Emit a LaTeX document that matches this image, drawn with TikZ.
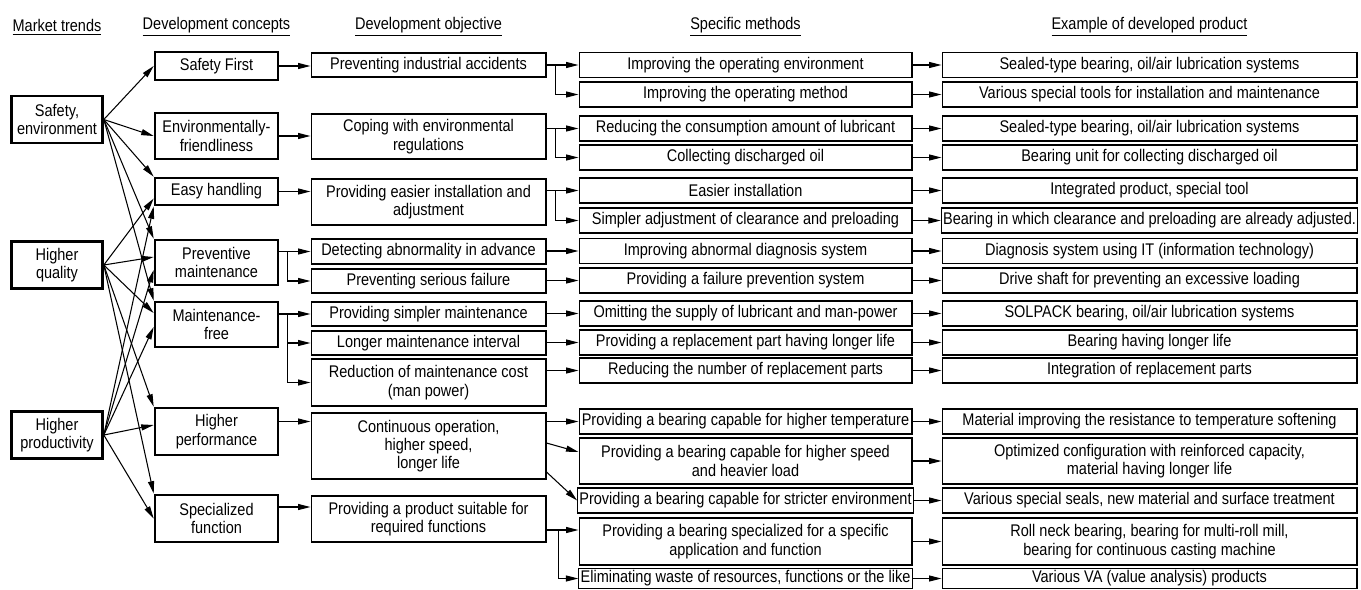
\documentclass[tikz,border=0pt]{standalone}
\usepackage{fontspec}
\setmainfont{Liberation Sans}[FakeStretch=0.86]
\usepackage{tikz}
\usetikzlibrary{calc}
\usetikzlibrary{arrows.meta}
\newcommand{\boxfont}{\fontsize{9.6}{10.4}\selectfont}

\begin{document}
\begin{tikzpicture}[x=0.02cm,y=-0.02cm,
    box/.style={draw,line width=0.6pt,inner sep=1pt,align=center,font=\boxfont},
    thickbox/.style={box,line width=1.5pt},
    trend/.style={thickbox,minimum width=1.82cm,minimum height=0.94cm},
    concept/.style={thickbox,minimum width=2.46cm},
    objective/.style={box,minimum width=4.7cm,minimum height=0.48cm},
    method/.style={box,minimum width=6.66cm,minimum height=0.5cm},
    product/.style={box,minimum width=8.3cm,minimum height=0.5cm},
    head/.style={inner sep=0pt,font=\boxfont},
    arr/.style={-{Triangle[length=2.5mm,width=1.2mm]},line width=0.6pt}]
                \useasboundingbox (0,0) rectangle (1361,589);

                % column headings
                \node[head] (hmt) at (57,27) {\underline{Market trends}};
                \node[head] (hdc) at (216.5,27) {\underline{Development concepts}};
                \node[head] (hdo) at (428.5,27) {\underline{Development objective}};
                \node[head] (hsm) at (745.5,27) {\underline{Specific methods}};
                \node[head] (hex) at (1149.5,27) {\underline{Example of developed product}};

                % market trends
                \node[trend] (safety) at (57,119.5) {Safety,\\environment};
                \node[trend] (quality) at (57,265) {Higher\\quality};
                \node[trend] (productivity) at (57,435) {Higher\\productivity};

                % development concepts
                \node[concept,minimum height=0.56cm] (first) at (216.5,66) {Safety First};
                \node[concept,minimum height=0.92cm] (envfr) at (216.5,136) {Environmentally-\\friendliness};
                \node[concept,minimum height=0.54cm] (easy) at (216.5,191.5) {Easy handling};
                \node[concept,minimum height=0.9cm] (prev) at (216.5,262.5) {Preventive\\maintenance};
                \node[concept,minimum height=0.9cm] (mfree) at (216.5,324.5) {Maintenance-\\free};
                \node[concept,minimum height=0.94cm] (perf) at (216.5,431.5) {Higher\\performance};
                \node[concept,minimum height=0.94cm] (spec) at (216.5,518.5) {Specialized\\function};

                % development objectives
                \node[objective] (o1) at (428.5,65) {Preventing industrial accidents};
                \node[objective,minimum height=0.9cm] (o2) at (428.5,136.5) {Coping with environmental\\regulations};
                \node[objective,minimum height=0.92cm] (o3) at (428.5,202) {Providing easier installation and\\adjustment};
                \node[objective,minimum height=0.5cm] (o4) at (428.5,251.5) {Detecting abnormality in advance};
                \node[objective] (o5) at (428.5,281) {Preventing serious failure};
                \node[objective] (o6) at (428.5,314) {Providing simpler maintenance};
                \node[objective] (o7) at (428.5,343) {Longer maintenance interval};
                \node[objective,minimum height=0.94cm] (o8) at (428.5,382.5) {Reduction of maintenance cost\\(man power)};
                \node[objective,minimum height=1.32cm] (o9) at (428.5,446) {Continuous operation,\\higher speed,\\longer life};
                \node[objective,minimum height=0.92cm] (o10) at (428.5,519) {Providing a product suitable for\\required functions};

                % specific methods
                \node[method] (m1) at (745.5,65) {Improving the operating environment};
                \node[method] (m2) at (745.5,94.5) {Improving the operating method};
                \node[method] (m3) at (745.5,128.5) {Reducing the consumption amount of lubricant};
                \node[method] (m4) at (745.5,157.5) {Collecting discharged oil};
                \node[method] (m5) at (745.5,190.5) {Easier installation};
                \node[method] (m6) at (745.5,220.5) {Simpler adjustment of clearance and preloading};
                \node[method] (m7) at (745.5,251) {Improving abnormal diagnosis system};
                \node[method] (m8) at (745.5,280.5) {Providing a failure prevention system};
                \node[method] (m9) at (745.5,313.5) {Omitting the supply of lubricant and man-power};
                \node[method] (m10) at (745.5,342.5) {Providing a replacement part having longer life};
                \node[method] (m11) at (745.5,370.5) {Reducing the number of replacement parts};
                \node[method] (m12) at (745.5,421.5) {Providing a bearing capable for higher temperature};
                \node[method,minimum height=0.92cm] (m13) at (745.5,461) {Providing a bearing capable for higher speed\\and heavier load};
                \node[method] (m14) at (745.5,500.5) {Providing a bearing capable for stricter environment};
                \node[method,minimum height=0.94cm] (m15) at (745.5,541.5) {Providing a bearing specialized for a specific\\application and function};
                \node[method,minimum height=0.4cm] (m16) at (745.5,578.5) {Eliminating waste of resources, functions or the like};

                % examples of developed products
                \node[product] (p1) at (1149.5,65) {Sealed-type bearing, oil/air lubrication systems};
                \node[product] (p2) at (1149.5,94.5) {Various special tools for installation and maintenance};
                \node[product] (p3) at (1149.5,128.5) {Sealed-type bearing, oil/air lubrication systems};
                \node[product] (p4) at (1149.5,157.5) {Bearing unit for collecting discharged oil};
                \node[product] (p5) at (1149.5,190.5) {Integrated product, special tool};
                \node[product] (p6) at (1149.5,220.5) {Bearing in which clearance and preloading are already adjusted.};
                \node[product] (p7) at (1149.5,251) {Diagnosis system using IT (information technology)};
                \node[product] (p8) at (1149.5,280.5) {Drive shaft for preventing an excessive loading};
                \node[product] (p9) at (1149.5,313.5) {SOLPACK bearing, oil/air lubrication systems};
                \node[product] (p10) at (1149.5,342.5) {Bearing having longer life};
                \node[product] (p11) at (1149.5,370.5) {Integration of replacement parts};
                \node[product] (p12) at (1149.5,421.5) {Material improving the resistance to temperature softening};
                \node[product,minimum height=0.92cm] (p13) at (1149.5,461) {Optimized configuration with reinforced capacity,\\material having longer life};
                \node[product] (p14) at (1149.5,500.5) {Various special seals, new material and surface treatment};
                \node[product,minimum height=0.94cm] (p15) at (1149.5,541.5) {Roll neck bearing, bearing for multi-roll mill,\\bearing for continuous casting machine};
                \node[product,minimum height=0.4cm] (p16) at (1149.5,578.5) {Various VA (value analysis) products};

                % trends -> concepts
                \draw[arr] (safety.east) -- (first.west);
                \draw[arr] (safety.east) -- (envfr.west);
                \draw[arr] (safety.east) -- (easy.north west);
                \draw[arr] (safety.east) -- (prev.north west);
                \draw[arr] (safety.east) -- (mfree.north west);
                \draw[arr] (quality.east) -- ($(easy.west)+(0,7)$);
                \draw[arr] (quality.east) -- ($(prev.west)+(0,-5.5)$);
                \draw[arr] (quality.east) -- ($(mfree.west)+(0,-11.5)$);
                \draw[arr] (quality.east) -- (perf.north west);
                \draw[arr] (quality.east) -- (spec.north west);
                \draw[arr] (productivity.east) -- (easy.south west);
                \draw[arr] (productivity.east) -- ($(prev.west)+(0,7.5)$);
                \draw[arr] (productivity.east) -- ($(mfree.west)+(0,2.5)$);
                \draw[arr] (productivity.east) -- ($(perf.west)+(0,-6.5)$);
                \draw[arr] (productivity.east) -- (spec.west);

                % concepts -> objectives
                \draw[arr] (first.east) -- (first.east -| o1.west);
                \draw[arr] (envfr.east) -- (envfr.east -| o2.west);
                \draw[arr] (easy.east) -- (easy.east -| o3.west);
                \draw[arr] (prev.east |- o4.west) -- (o4.west);
                \draw[arr] ($(prev.east |- o4.west)+(8,0)$) |- (o5.west);
                \draw[arr] (mfree.east |- o6.west) -- (o6.west);
                \draw[arr] ($(mfree.east |- o6.west)+(8,0)$) |- (o7.west);
                \draw[arr] ($(mfree.east |- o6.west)+(8,0)$) |- (o8.west);
                \coordinate (c9) at (o9.west |- m12.west);
                \draw[arr] (perf.east |- c9) -- (c9);
                \coordinate (c10) at ($(o10.west)+(0,-12)$);
                \draw[arr] (spec.east |- c10) -- (c10);

                % objectives -> methods
                \draw[arr] (o1.east) -- (m1.west);
                \draw[arr] ($(o1.east)+(9,0)$) |- (m2.west);
                \draw[arr] (o2.east |- m3.west) -- (m3.west);
                \draw[arr] ($(o2.east |- m3.west)+(9,0)$) |- (m4.west);
                \draw[arr] (o3.east |- m5.west) -- (m5.west);
                \draw[arr] ($(o3.east |- m5.west)+(9,0)$) |- (m6.west);
                \draw[arr] (o4.east |- m7.west) -- (m7.west);
                \draw[arr] (o5.east |- m8.west) -- (m8.west);
                \draw[arr] (o6.east |- m9.west) -- (m9.west);
                \draw[arr] (o7.east |- m10.west) -- (m10.west);
                \draw[arr] (o8.east |- m11.west) -- (m11.west);
                \draw[arr] (o9.east |- m12.west) -- (m12.west);
                \draw[arr] ($(o9.east)+(0,-3)$) -- ($(m13.west)+(0,-9)$);
                \draw[arr] ($(o9.east)+(0,26)$) -- (m14.west);
                \coordinate (c15) at ($(m15.west)+(0,-11.5)$);
                \draw[arr] (o10.east |- c15) -- (c15);
                \draw[arr] ($(o10.east |- c15)+(12,0)$) |- (m16.west);

                % methods -> products
                \foreach \i in {1,...,16}
                    \draw[arr] (m\i.east) -- (p\i.west);
            \end{tikzpicture}
\end{document}
